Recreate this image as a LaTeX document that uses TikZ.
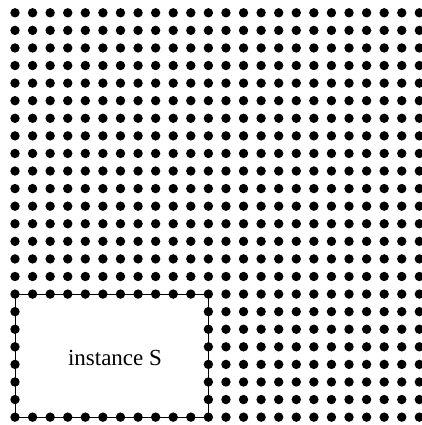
\documentclass[tikz,border=0pt]{standalone}
\usepackage{fontspec}
\setmainfont{Liberation Serif}
\begin{document}
\begin{tikzpicture}[x=1pt,y=-1pt,
  gdot/.style={fill=black},
  instbox/.style={draw=black, line width=1pt, fill=white, inner sep=0pt,
    minimum width=193.38pt, minimum height=123.06pt},
  instlabel/.style={inner sep=0pt, anchor=base, font=\fontsize{23}{27}\selectfont}]
\useasboundingbox (0,0) rectangle (422,425);
\node[instbox] (S) at ({15+5.5*17.58},{12.8+19.5*17.58}) {};
\node[instlabel] (Slabel) at ([xshift=3.3pt,yshift=-10.1pt]S.center) {instance S};
\foreach \i in {0,...,23}{
  \foreach \j in {0,...,23}{
    \pgfmathtruncatemacro\inside{and(and(\i>0,\i<11),and(\j>16,\j<23))}
    \ifnum\inside=0
      \fill[gdot] ({15+\i*17.58},{12.8+\j*17.58}) circle (4.7);
    \fi
  }
}
\end{tikzpicture}
\end{document}
